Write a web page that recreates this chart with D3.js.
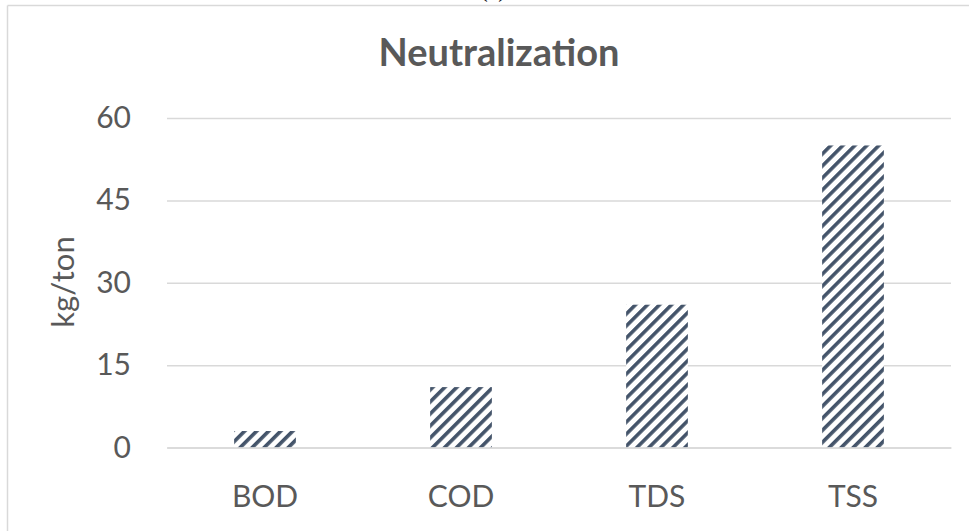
<!DOCTYPE html>
<html>
<head>
<meta charset="utf-8">
<script src="https://cdn.jsdelivr.net/npm/d3@7"></script>
<style>
  html, body { margin: 0; padding: 0; background: #ffffff; }
  svg { display: block; }
</style>
</head>
<body>
<svg id="chart" width="969" height="531"></svg>
<script>
// Pollutant loads from the neutralization step (kg per ton)
const categories = ["BOD", "COD", "TDS", "TSS"];
const values = [3, 11, 26, 55];
const yTicks = [0, 15, 30, 45, 60];
const chartTitle = "Neutralization";
const yAxisTitle = "kg/ton";
const panelLabel = "(a)";

const W = 969, H = 531;
const margin = { left: 167, right: 18, top: 118, bottom: 83.5 };
const svg = d3.select("#chart");
const font = "Lato, 'Open Sans', sans-serif";
const textColor = "#595959";
const gridColor = "#d9d9d9";
const barColor = "#44546a";

// Diagonal stripe fill for the bars
const defs = svg.append("defs");
const pat = defs.append("pattern")
  .attr("id", "stripes")
  .attr("patternUnits", "userSpaceOnUse")
  .attr("width", 8.5).attr("height", 8.5)
  .attr("patternTransform", "rotate(45)");
pat.append("rect").attr("width", 8.5).attr("height", 8.5).attr("fill", "#ffffff");
pat.append("rect").attr("x", 0).attr("width", 3.6).attr("height", 8.5).attr("fill", barColor);

// Panel letter above the frame (only its lower part falls inside the page)
svg.append("text")
  .attr("x", 493).attr("y", -3)
  .attr("text-anchor", "middle")
  .attr("font-family", "'Liberation Serif', serif")
  .attr("font-size", 24)
  .attr("fill", "#000")
  .text(panelLabel);

// Frame of the chart area
svg.append("line").attr("x1", 7.5).attr("x2", W).attr("y1", 5.5).attr("y2", 5.5)
  .attr("stroke", gridColor).attr("stroke-width", 1.5);
svg.append("line").attr("x1", 7.5).attr("x2", 7.5).attr("y1", 5.5).attr("y2", H)
  .attr("stroke", gridColor).attr("stroke-width", 1.5);

const x = d3.scaleBand()
  .domain(categories)
  .range([margin.left, W - margin.right])
  .paddingInner(0.685)
  .paddingOuter(0.3425);

const y = d3.scaleLinear()
  .domain([0, 60])
  .range([H - margin.bottom, margin.top]);

// Horizontal gridlines and value labels
const yAxis = d3.axisLeft(y)
  .tickValues(yTicks)
  .tickSize(-(W - margin.right - margin.left))
  .tickPadding(36)
  .tickFormat(d3.format("d"));

const gy = svg.append("g")
  .attr("transform", `translate(${margin.left},0)`)
  .call(yAxis);
gy.select(".domain").remove();
gy.selectAll(".tick line")
  .attr("stroke", gridColor).attr("stroke-width", 1.5);
gy.selectAll(".tick text")
  .attr("font-family", font).attr("font-size", 30)
  .attr("fill", textColor);

// Bars
svg.append("g").selectAll("rect")
  .data(values)
  .join("rect")
  .attr("x", (d, i) => x(categories[i]))
  .attr("width", x.bandwidth())
  .attr("y", d => y(d))
  .attr("height", d => y(0) - y(d))
  .attr("fill", "url(#stripes)");

// Category axis
const xAxis = d3.axisBottom(x).tickSize(0).tickPadding(38);
const gx = svg.append("g")
  .attr("transform", `translate(0,${y(0)})`)
  .call(xAxis);
gx.select(".domain").attr("stroke", gridColor).attr("stroke-width", 1.5);
gx.selectAll(".tick text")
  .attr("font-family", font).attr("font-size", 30)
  .attr("fill", textColor)
  .attr("dy", "0.71em");

// Titles
svg.append("text")
  .attr("x", 499).attr("y", 66)
  .attr("text-anchor", "middle")
  .attr("font-family", font).attr("font-weight", "bold")
  .attr("font-size", 38)
  .attr("fill", textColor)
  .text(chartTitle);

svg.append("text")
  .attr("transform", `translate(74,282) rotate(-90)`)
  .attr("text-anchor", "middle")
  .attr("font-family", font).attr("font-size", 31)
  .attr("fill", textColor)
  .text(yAxisTitle);
</script>
</body>
</html>
